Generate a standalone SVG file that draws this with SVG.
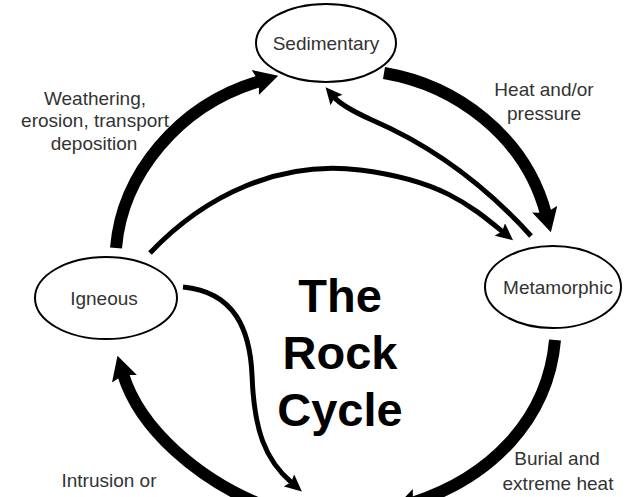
<svg xmlns="http://www.w3.org/2000/svg" width="625" height="497" viewBox="0 0 625 497">
<defs>
<style>
.node ellipse{fill:#fff;stroke:#000;stroke-width:2}
.node text{font-family:"Liberation Sans",Arial,sans-serif;font-size:19px;fill:#333;text-anchor:middle;dominant-baseline:central}
.label{font-family:"Liberation Sans",Arial,sans-serif;font-size:19px;fill:#333;text-anchor:middle}
.title{font-family:"Liberation Sans",Arial,sans-serif;font-size:47px;font-weight:bold;fill:#000;text-anchor:middle}
.thick{fill:none;stroke:#000;stroke-width:12;marker-end:url(#headThick)}
.thin{fill:none;stroke:#000;stroke-width:5;marker-end:url(#headThin)}
</style>
<marker id="headThick" markerUnits="userSpaceOnUse" markerWidth="24" markerHeight="26" viewBox="0 0 24 26" refX="5" refY="13" orient="auto">
<path d="M0,0 L24,13 L0,26 L4,13 z" fill="#000"/>
</marker>
<marker id="headThin" markerUnits="userSpaceOnUse" markerWidth="17" markerHeight="16" viewBox="0 0 17 16" refX="4" refY="8" orient="auto">
<path d="M0,0 L17,8 L0,16 L3,8 z" fill="#000"/>
</marker>
</defs>
<rect width="625" height="497" fill="#fff"/>
<g id="connectors">
<path class="thick" d="M116,248 C122,175 178,105 260,81"/>
<path class="thick" d="M384,73 C455,85 525,135 546,214"/>
<path class="thick" d="M555,340 C548,420 490,478 412,503"/>
<path class="thick" d="M262,505 C200,480 140,430 123,374"/>
<path class="thin" d="M531,236 C485,185 430,145 372,120 C352,111 340,104 334,97"/>
<path class="thin" d="M150,253 C205,195 280,160 360,170 S470,205 503,232"/>
<path class="thin" d="M183,287 C235,292 250,330 252,375 C254,430 265,460 292,483"/>
</g>
<g id="sedimentary" class="node">
<ellipse cx="326" cy="43" rx="70" ry="39"/>
<text x="326" y="43">Sedimentary</text>
</g>
<g id="metamorphic" class="node">
<ellipse cx="553" cy="287" rx="68" ry="41"/>
<text x="558" y="287">Metamorphic</text>
</g>
<g id="igneous" class="node">
<ellipse cx="106" cy="298" rx="71" ry="41"/>
<text x="104" y="298">Igneous</text>
</g>
<g id="labels">
<text class="label" x="95" y="105">Weathering,</text>
<text class="label" x="95" y="127">erosion, transport</text>
<text class="label" x="94" y="150">deposition</text>
<text class="label" x="544" y="96">Heat and/or</text>
<text class="label" x="544" y="120">pressure</text>
<text class="label" x="557" y="465">Burial and</text>
<text class="label" x="558" y="490">extreme heat</text>
<text class="label" x="109" y="487">Intrusion or</text>
</g>
<g id="title">
<text class="title" x="340" y="312">The</text>
<text class="title" x="340" y="369">Rock</text>
<text class="title" x="340" y="426">Cycle</text>
</g>
</svg>
